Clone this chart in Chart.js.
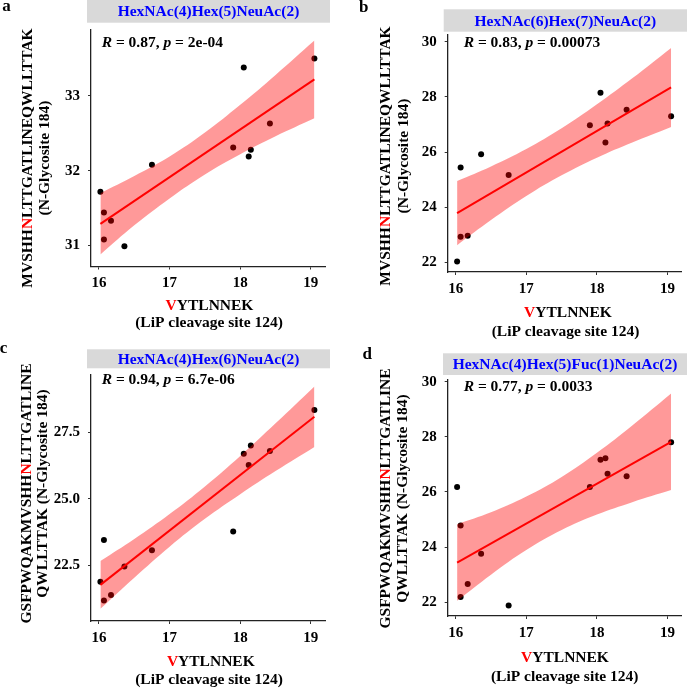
<!DOCTYPE html>
<html>
<head>
<meta charset="utf-8">
<script src="https://cdn.jsdelivr.net/npm/chart.js@4.4.1/dist/chart.umd.min.js"></script>
<style>
  body { margin: 0; background: #fff; }
  .panel { position: absolute; }
</style>
</head>
<body>
<div class="panel" style="left:0;top:0"><canvas id="panelA" width="343" height="344"></canvas></div>
<div class="panel" style="left:343px;top:0"><canvas id="panelB" width="344" height="344"></canvas></div>
<div class="panel" style="left:0;top:344px"><canvas id="panelC" width="343" height="345"></canvas></div>
<div class="panel" style="left:343px;top:344px"><canvas id="panelD" width="344" height="345"></canvas></div>
<script>
// LiP cleavage site 124 intensity (same samples in every panel)
const lipX = [16.02, 16.07, 16.07, 16.17, 16.36, 16.75, 17.90, 18.05, 18.12, 18.15, 18.42, 19.05];
const xTicks = [16, 17, 18, 19];

// N-glycosite 184 intensity, one array per glycoform
const glycoA = [31.72, 31.44, 31.08, 31.33, 30.99, 32.08, 32.31, 33.38, 32.19, 32.28, 32.63, 33.50];
const glycoB = [22.04, 25.44, 22.94, 22.97, 25.92, 25.17, 26.97, 28.15, 26.35, 27.04, 27.53, 27.30];
const glycoC = [21.88, 23.45, 21.17, 21.38, 22.45, 23.07, 23.77, 26.70, 26.28, 27.01, 26.81, 28.35];
const glycoD = [26.18, 24.78, 22.19, 22.66, 23.76, 21.88, 26.18, 27.17, 27.22, 26.66, 26.57, 27.80];

// regression line ends and confidence band
const fitX = [16.02, 19.05];
const fitA = [31.29, 33.22];
const fitB = [23.79, 28.34];
const fitC = [21.76, 28.10];
const fitD = [23.44, 27.82];

const bandX = [16.02, 16.5, 17, 17.5, 18, 18.5, 19.05];
const ciLowA = [30.88, 31.27, 31.63, 31.95, 32.22, 32.46, 32.70];
const ciHighA = [31.70, 31.93, 32.19, 32.51, 32.88, 33.28, 33.74];
const ciLowB = [22.63, 23.54, 24.41, 25.16, 25.80, 26.35, 26.91];
const ciHighB = [24.95, 25.48, 26.11, 26.86, 27.73, 28.67, 29.77];
const ciLowC = [20.86, 22.03, 23.20, 24.25, 25.18, 26.05, 26.96];
const ciHighC = [22.66, 23.49, 24.43, 25.47, 26.62, 27.85, 29.24];
const ciLowD = [22.05, 23.00, 23.89, 24.62, 25.18, 25.63, 26.07];
const ciHighD = [24.83, 25.26, 25.83, 26.54, 27.42, 28.41, 29.57];

const yTicksA = [31, 32, 33];
const yTicksB = [22, 24, 26, 28, 30];
const yTicksC = [22.5, 25.0, 27.5];
const yTicksD = [22, 24, 26, 28, 30];

const glycans = ['HexNAc(4)Hex(5)NeuAc(2)', 'HexNAc(6)Hex(7)NeuAc(2)', 'HexNAc(4)Hex(6)NeuAc(2)', 'HexNAc(4)Hex(5)Fuc(1)NeuAc(2)'];
const stats = [['0.87', '2e-04'], ['0.83', '0.00073'], ['0.94', '6.7e-06'], ['0.77', '0.0033']];

const SERIF = '"Liberation Serif", "Times New Roman", serif';
const BOLD = 'bold 15.5px ' + SERIF;
const BOLDIT = 'italic bold 15.5px ' + SERIF;

function pts(xs, ys) { return xs.map((x, i) => ({ x: x, y: ys[i] })); }

function richText(ctx, parts, x, y, align) {
  let total = 0;
  parts.forEach(p => { ctx.font = p.font; p.w = ctx.measureText(p.text).width; total += p.w; });
  let cx = align === 'left' ? x : x - total / 2;
  ctx.textAlign = 'left';
  ctx.textBaseline = 'middle';
  parts.forEach(p => {
    ctx.font = p.font;
    ctx.fillStyle = p.color || '#000';
    ctx.fillText(p.text, cx, y);
    cx += p.w;
  });
}

const decor = {
  id: 'decor',
  afterDraw(chart) {
    const L = chart.options.plugins.decor;
    const ctx = chart.ctx;
    ctx.save();
    // panel letter
    ctx.font = 'bold 17px ' + SERIF;
    ctx.fillStyle = '#000';
    ctx.textAlign = 'center';
    ctx.textBaseline = 'middle';
    ctx.fillText(L.letter, L.letterPos[0], L.letterPos[1]);
    // strip header
    ctx.fillStyle = '#D9D9D9';
    ctx.fillRect(L.strip[0], L.strip[1], L.strip[2] - L.strip[0], L.strip[3] - L.strip[1]);
    richText(ctx, [{ text: L.glycan, font: BOLD, color: '#0000FF' }], (L.strip[0] + L.strip[2]) / 2, (L.strip[1] + L.strip[3]) / 2 + 1);
    // correlation label
    richText(ctx, [
      { text: 'R', font: BOLDIT }, { text: ' = ' + L.stat[0] + ', ', font: BOLD },
      { text: 'p', font: BOLDIT }, { text: ' = ' + L.stat[1], font: BOLD }
    ], L.statPos[0], L.statPos[1], 'left');
    // x title
    richText(ctx, [{ text: 'V', font: BOLD, color: '#FF0000' }, { text: 'YTLNNEK', font: BOLD }], L.xTitle[0], L.xTitle[1]);
    richText(ctx, [{ text: '(LiP cleavage site 124)', font: BOLD }], L.xTitle[2], L.xTitle[3]);
    // y title
    ctx.save();
    ctx.translate(L.yTitle[0], L.yTitle[2]);
    ctx.rotate(-Math.PI / 2);
    richText(ctx, [{ text: L.pep1[0], font: BOLD }, { text: 'N', font: BOLD, color: '#FF0000' }, { text: L.pep1[1], font: BOLD }], 0, 0);
    ctx.restore();
    ctx.save();
    ctx.translate(L.yTitle[1], L.yTitle[2]);
    ctx.rotate(-Math.PI / 2);
    richText(ctx, [{ text: L.line2, font: BOLD }], 0, 0);
    ctx.restore();
    ctx.restore();
  }
};

function axis(min, max, ticks, isY, fmt) {
  return {
    type: 'linear',
    min: min,
    max: max,
    afterBuildTicks: s => { s.ticks = ticks.map(v => ({ value: v })); },
    afterFit: s => { if (isY) s.width = 40; else s.height = 30; },
    border: { display: true, color: '#222', width: 1.3 },
    grid: { display: true, drawOnChartArea: false, drawTicks: true, tickLength: 3, color: '#333', lineWidth: 1 },
    ticks: {
      color: '#000',
      padding: isY ? 8 : 5,
      font: { family: SERIF, size: 15, weight: 'bold' },
      callback: v => fmt ? v.toFixed(1) : String(v)
    }
  };
}

function makePanel(id, ys, fitY, lo, hi, yMin, yMax, yTicks, fmt, layout) {
  new Chart(document.getElementById(id), {
    type: 'scatter',
    data: {
      datasets: [
        { data: pts(lipX, ys), pointRadius: 3, pointBackgroundColor: '#000', pointBorderWidth: 0, order: 3 },
        { type: 'line', data: pts(bandX, lo), pointRadius: 0, borderWidth: 0, tension: 0.4, fill: false, order: 2 },
        { type: 'line', data: pts(bandX, hi), pointRadius: 0, borderWidth: 0, tension: 0.4, fill: '-1', backgroundColor: 'rgba(255,0,0,0.4)', order: 2 },
        { type: 'line', data: pts(fitX, fitY), pointRadius: 0, borderWidth: 2, borderColor: '#FF0000', fill: false, order: 1 }
      ]
    },
    options: {
      responsive: false,
      animation: false,
      events: [],
      layout: { padding: layout.padding },
      scales: {
        x: axis(15.887, 19.2, xTicks, false, false),
        y: axis(yMin, yMax, yTicks, true, fmt)
      },
      plugins: { legend: { display: false }, tooltip: { enabled: false }, decor: layout }
    },
    plugins: [decor]
  });
}

makePanel('panelA', glycoA, fitA, ciLowA, ciHighA, 30.72, 33.88, yTicksA, false, {
  padding: { left: 51, right: 18, top: 30, bottom: 47.5 },
  letter: 'a', letterPos: [6.5, 7], strip: [87, 0, 330, 22.7], glycan: glycans[0],
  stat: stats[0], statPos: [101.7, 43],
  xTitle: [209.5, 306, 209, 323.3], yTitle: [28.3, 45, 158],
  pep1: ['MVSHH', 'LTTGATLINEQWLLTTAK'], line2: '(N-Glycosite 184)'
});
makePanel('panelB', glycoB, fitB, ciLowB, ciHighB, 21.66, 30.24, yTicksB, false, {
  padding: { left: 64.7, right: 5.3, top: 35, bottom: 42 },
  letter: 'b', letterPos: [20.8, 7.5], strip: [100.7, 9.3, 344, 31.7], glycan: glycans[1],
  stat: stats[1], statPos: [120.7, 42.7],
  xTitle: [225, 313.3, 222.5, 331.7], yTitle: [43.3, 61, 156],
  pep1: ['MVSHH', 'LTTGATLINEQWLLTTAK'], line2: '(N-Glycosite 184)'
});
makePanel('panelC', glycoC, fitC, ciLowC, ciHighC, 20.40, 29.67, yTicksC, true, {
  padding: { left: 51, right: 18, top: 31, bottom: 38 },
  letter: 'c', letterPos: [3.5, 4.3], strip: [87, 5.3, 330, 24.3], glycan: glycans[2],
  stat: stats[2], statPos: [101.7, 36],
  xTitle: [210.8, 317.7, 209, 336], yTitle: [26.7, 43.3, 149.5],
  pep1: ['GSFPWQAKMVSHH', 'LTTGATLINE'], line2: 'QWLLTTAK (N-Glycosite 184)'
});
makePanel('panelD', glycoD, fitD, ciLowD, ciHighD, 21.50, 30.06, yTicksD, false, {
  padding: { left: 64.7, right: 5.3, top: 36, bottom: 43 },
  letter: 'd', letterPos: [24.2, 10.2], strip: [100, 9.3, 344, 31], glycan: glycans[3],
  stat: stats[3], statPos: [120.7, 42.7],
  xTitle: [222, 314.3, 221.7, 332.7], yTitle: [43.3, 60, 154.5],
  pep1: ['GSFPWQAKMVSHH', 'LTTGATLINE'], line2: 'QWLLTTAK (N-Glycosite 184)'
});
</script>
</body>
</html>
